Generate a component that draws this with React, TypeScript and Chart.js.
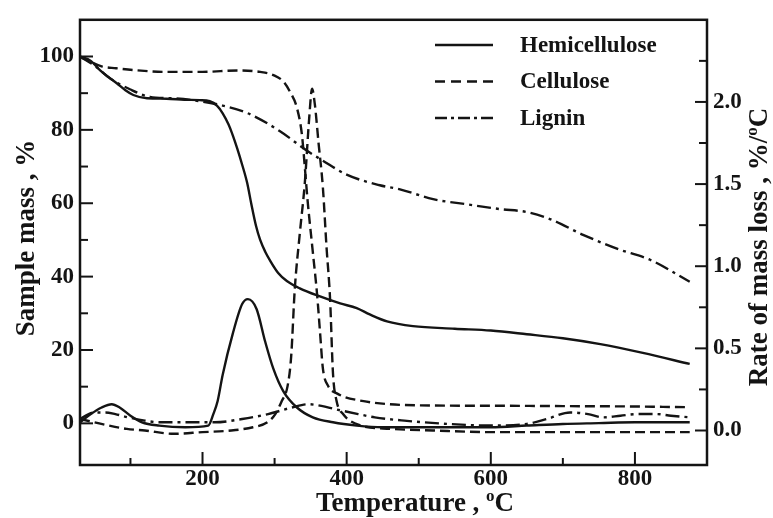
import { useEffect, useRef } from "react";
import { Chart, registerables } from "chart.js";

Chart.register(...registerables);

const FONT = "'Liberation Serif', 'Times New Roman', Times, serif";
const INK = "#141414";

// Axis ticks
const tempMajorTicks = [200, 400, 600, 800];
const tempMinorTicks = [100, 300, 500, 700];
const massMajorTicks = [0, 20, 40, 60, 80, 100];
const massMinorTicks = [10, 30, 50, 70, 90];
const rateMajorTicks = [0, 0.5, 1.0, 1.5, 2.0];
const rateMinorTicks = [0.25, 0.75, 1.25, 1.75, 2.25];

const seriesNames = ["Hemicellulose", "Cellulose", "Lignin"];

// TG: sample mass (%) vs temperature (°C)
const hemiTgTemp = [30, 45, 58, 70, 81, 93, 104, 123, 150, 175, 196, 210, 220, 228, 236, 242, 248, 255, 262, 268, 274, 280, 287, 294, 305, 317, 335, 363, 391, 414, 432, 456, 492, 550, 600, 650, 700, 752, 811, 876];
const hemiTgMass = [100, 98.8, 96.2, 94.3, 92.7, 90.8, 89.5, 88.6, 88.5, 88.2, 88.1, 87.8, 86.6, 84.5, 81.5, 78.5, 75, 70.5, 65.5, 59.5, 54, 50, 46.8, 44.3, 41, 38.8, 36.8, 34.6, 32.7, 31.4, 29.7, 27.8, 26.5, 25.8, 25.3, 24.3, 23.2, 21.6, 19.2, 16.2];

const celluTgTemp = [30, 45, 60, 80, 110, 150, 200, 250, 280, 300, 313, 321, 331, 338, 342, 346, 353, 359, 363, 367, 374, 387, 419, 502, 600, 700, 800, 876];
const celluTgMass = [100, 98.5, 97.3, 96.8, 96.2, 95.8, 95.8, 96.2, 95.8, 94.8, 93, 90.5, 86, 78.6, 69.7, 60.3, 46.8, 35.1, 25, 15, 10.3, 8.1, 6.2, 4.9, 4.8, 4.7, 4.6, 4.4];

const ligninTgTemp = [30, 50, 72, 100, 127, 159, 197, 224, 262, 307, 345, 367, 400, 446, 474, 520, 567, 613, 650, 682, 728, 775, 821, 876];
const ligninTgMass = [100, 97.5, 94, 91, 89, 88.6, 87.8, 86.8, 84.6, 79.7, 74.3, 71.6, 67.8, 64.9, 63.8, 61.1, 59.7, 58.4, 57.6, 55.7, 51.4, 47.6, 44.6, 38.6];

// DTG: rate of mass loss (%/°C) vs temperature (°C)
const hemiDtgTemp = [30, 45, 60, 74, 85, 100, 116, 140, 176, 208, 215, 221, 228, 242, 255, 263, 275, 287, 298, 312, 331, 353, 381, 414, 450, 500, 550, 600, 650, 700, 750, 800, 876];
const hemiDtgRate = [0.05, 0.1, 0.14, 0.16, 0.14, 0.09, 0.05, 0.03, 0.02, 0.03, 0.1, 0.18, 0.34, 0.59, 0.77, 0.8, 0.74, 0.54, 0.38, 0.24, 0.14, 0.08, 0.05, 0.03, 0.02, 0.02, 0.02, 0.02, 0.03, 0.04, 0.045, 0.05, 0.05];

const celluDtgTemp = [30, 50, 70, 95, 120, 160, 200, 240, 270, 290, 301, 310, 318, 323, 328, 335, 342, 348, 352, 356, 361, 367, 372, 377, 381, 386, 395, 420, 460, 520, 600, 700, 800, 876];
const celluDtgRate = [0.07, 0.05, 0.03, 0.01, 0.0, -0.02, -0.01, 0.0, 0.02, 0.05, 0.1, 0.18, 0.27, 0.45, 0.86, 1.2, 1.51, 1.9, 2.08, 1.98, 1.75, 1.48, 1.12, 0.8, 0.35, 0.18, 0.1, 0.03, 0.01, 0.0, -0.01, -0.01, -0.01, -0.01];

const ligninDtgTemp = [30, 42, 51, 65, 79, 97, 120, 141, 180, 217, 255, 291, 324, 346, 365, 384, 416, 439, 480, 540, 600, 650, 678, 710, 735, 756, 780, 803, 830, 850, 876];
const ligninDtgRate = [0.07, 0.1, 0.11, 0.11, 0.1, 0.08, 0.06, 0.05, 0.05, 0.05, 0.07, 0.1, 0.14, 0.16, 0.15, 0.13, 0.1, 0.08, 0.06, 0.04, 0.03, 0.04, 0.07, 0.11, 0.1, 0.08, 0.09, 0.1, 0.1, 0.09, 0.08];

const dashStyles = [[], [10, 5], [14, 5, 3, 5]];
const legendDashStyles = [[], [10, 6], [12, 4, 3, 4]];

const toPoints = (t: number[], v: number[]) => t.map((x, i) => ({ x, y: v[i] }));

type Part = { text: string; sup?: boolean };

function drawRichText(ctx: CanvasRenderingContext2D, parts: Part[], size: number) {
  const supSize = Math.round(size * 0.62);
  const fontFor = (p: Part) => `bold ${p.sup ? supSize : size}px ${FONT}`;
  let total = 0;
  const widths = parts.map((p) => {
    ctx.font = fontFor(p);
    const w = ctx.measureText(p.text).width;
    total += w;
    return w;
  });
  let x = -total / 2;
  ctx.textAlign = "left";
  ctx.textBaseline = "alphabetic";
  parts.forEach((p, i) => {
    ctx.font = fontFor(p);
    ctx.fillText(p.text, x, p.sup ? -size * 0.36 : 0);
    x += widths[i];
  });
}

const framePlugin = {
  id: "frameAndTicks",
  afterDatasetsDraw(chart: any) {
    const { ctx, chartArea: a, scales } = chart;
    ctx.save();
    ctx.strokeStyle = INK;
    ctx.lineWidth = 2.5;
    ctx.strokeRect(a.left, a.top, a.right - a.left, a.bottom - a.top);
    ctx.lineWidth = 2;
    const seg = (x1: number, y1: number, x2: number, y2: number) => {
      ctx.beginPath();
      ctx.moveTo(x1, y1);
      ctx.lineTo(x2, y2);
      ctx.stroke();
    };
    tempMajorTicks.forEach((v) => {
      const x = scales.x.getPixelForValue(v);
      seg(x, a.bottom, x, a.bottom - 13);
    });
    tempMinorTicks.forEach((v) => {
      const x = scales.x.getPixelForValue(v);
      seg(x, a.bottom, x, a.bottom - 7);
    });
    massMajorTicks.forEach((v) => {
      const y = scales.y.getPixelForValue(v);
      seg(a.left, y, a.left + 13, y);
    });
    massMinorTicks.forEach((v) => {
      const y = scales.y.getPixelForValue(v);
      seg(a.left, y, a.left + 8, y);
    });
    rateMajorTicks.forEach((v) => {
      const y = scales.y1.getPixelForValue(v);
      seg(a.right, y, a.right - 12, y);
    });
    rateMinorTicks.forEach((v) => {
      const y = scales.y1.getPixelForValue(v);
      seg(a.right, y, a.right - 8, y);
    });
    ctx.restore();
  },
};

const legendPlugin = {
  id: "lineLegend",
  afterDraw(chart: any) {
    const { ctx } = chart;
    ctx.save();
    ctx.strokeStyle = INK;
    ctx.fillStyle = INK;
    ctx.lineWidth = 2.5;
    seriesNames.forEach((name, i) => {
      const y = 45 + i * 36.5;
      ctx.setLineDash(legendDashStyles[i]);
      ctx.beginPath();
      ctx.moveTo(435, y);
      ctx.lineTo(493, y);
      ctx.stroke();
      ctx.setLineDash([]);
      ctx.font = `bold 23px ${FONT}`;
      ctx.textAlign = "left";
      ctx.textBaseline = "middle";
      ctx.fillText(name, 520, y + 1);
    });
    ctx.restore();
  },
};

const titlePlugin = {
  id: "axisTitles",
  afterDraw(chart: any) {
    const { ctx } = chart;
    ctx.save();
    ctx.fillStyle = INK;
    // bottom
    ctx.save();
    ctx.translate(415, 511);
    drawRichText(ctx, [{ text: "Temperature , " }, { text: "o", sup: true }, { text: "C" }], 27);
    ctx.restore();
    // left
    ctx.save();
    ctx.translate(34, 238);
    ctx.rotate(-Math.PI / 2);
    drawRichText(ctx, [{ text: "Sample mass , %" }], 27);
    ctx.restore();
    // right
    ctx.save();
    ctx.translate(767, 247);
    ctx.rotate(-Math.PI / 2);
    drawRichText(ctx, [{ text: "Rate of mass loss , %/" }, { text: "o", sup: true }, { text: "C" }], 27);
    ctx.restore();
    ctx.restore();
  },
};

export default function App() {
  const canvasRef = useRef<HTMLCanvasElement | null>(null);

  useEffect(() => {
    if (!canvasRef.current) return;
    const line = (data: any[], axis: string, idx: number, label: string) => ({
      label,
      data,
      yAxisID: axis,
      borderColor: INK,
      backgroundColor: INK,
      borderWidth: 2.4,
      borderDash: dashStyles[idx],
      pointRadius: 0,
      fill: false,
      cubicInterpolationMode: "monotone" as const,
    });
    const tickFont = { family: FONT, size: 23, weight: "bold" as const };
    const chart = new Chart(canvasRef.current, {
      type: "line",
      data: {
        datasets: [
          line(toPoints(hemiTgTemp, hemiTgMass), "y", 0, seriesNames[0]),
          line(toPoints(celluTgTemp, celluTgMass), "y", 1, seriesNames[1]),
          line(toPoints(ligninTgTemp, ligninTgMass), "y", 2, seriesNames[2]),
          line(toPoints(hemiDtgTemp, hemiDtgRate), "y1", 0, seriesNames[0] + " DTG"),
          line(toPoints(celluDtgTemp, celluDtgRate), "y1", 1, seriesNames[1] + " DTG"),
          line(toPoints(ligninDtgTemp, ligninDtgRate), "y1", 2, seriesNames[2] + " DTG"),
        ],
      },
      options: {
        responsive: false,
        animation: false,
        devicePixelRatio: 1,
        layout: { padding: { top: 16, left: 0, right: 0, bottom: 0 } },
        plugins: { legend: { display: false }, tooltip: { enabled: false } },
        scales: {
          x: {
            type: "linear",
            min: 30,
            max: 900,
            grid: { display: false, drawTicks: false },
            border: { display: false },
            ticks: { font: tickFont, color: INK, padding: 0, maxRotation: 0, autoSkip: false },
            afterBuildTicks: (s: any) => {
              s.ticks = tempMajorTicks.map((value) => ({ value }));
            },
            afterFit: (s: any) => {
              s.height = 53;
            },
          },
          y: {
            type: "linear",
            position: "left",
            min: -11.35,
            max: 110,
            grid: { display: false, drawTicks: false },
            border: { display: false },
            ticks: { font: tickFont, color: INK, padding: 6 },
            afterBuildTicks: (s: any) => {
              s.ticks = massMajorTicks.map((value) => ({ value }));
            },
            afterFit: (s: any) => {
              s.width = 80;
            },
          },
          y1: {
            type: "linear",
            position: "right",
            min: -0.21,
            max: 2.5,
            grid: { display: false, drawTicks: false },
            border: { display: false },
            ticks: {
              font: tickFont,
              color: INK,
              padding: 6,
              callback: (v: any) => Number(v).toFixed(1),
            },
            afterBuildTicks: (s: any) => {
              s.ticks = rateMajorTicks.map((value) => ({ value }));
            },
            afterFit: (s: any) => {
              s.width = 66;
            },
          },
        },
      },
      plugins: [framePlugin, legendPlugin, titlePlugin],
    });
    return () => chart.destroy();
  }, []);

  return (
    <div style={{ position: "absolute", left: 0, top: 0, width: 773, height: 518, background: "#fff" }}>
      <canvas ref={canvasRef} width={773} height={518} />
    </div>
  );
}
